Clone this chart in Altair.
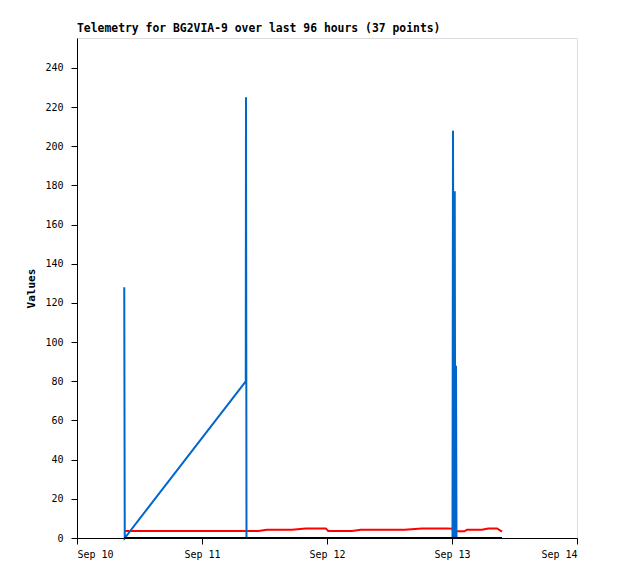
import json
import altair as alt
import pandas as pd

title_text = "Telemetry for BG2VIA-9 over last 96 hours (37 points)"
day_labels = ["Sep 10", "Sep 11", "Sep 12", "Sep 13", "Sep 14"]
day_ticks = [0, 1, 2, 3, 4]
y_ticks = list(range(0, 241, 20))

# time in days since Sep 10 00:00
t = [0.378, 0.382, 1.350, 1.352, 1.356,
     1.45, 1.52, 1.62, 1.72, 1.83, 1.92, 1.99, 2.01, 2.10, 2.20, 2.27, 2.38,
     2.50, 2.62, 2.76, 2.87, 2.96,
     3.004, 3.008, 3.014, 3.022, 3.026, 3.032, 3.036,
     3.06, 3.10, 3.12, 3.18, 3.24, 3.29, 3.36, 3.40]
blue = [128, 0, 80, 225, 0,
        0, 0, 0, 0, 0, 0, 0, 0, 0, 0, 0, 0,
        0, 0, 0, 0, 0,
        0, 208, 0, 177, 0, 88, 0,
        0, 0, 0, 0, 0, 0, 0, 0]
red = [3.6, 3.6, 3.6, 3.6, 3.6,
       3.6, 4.2, 4.2, 4.2, 4.9, 4.9, 4.9, 3.6, 3.6, 3.6, 4.2, 4.2,
       4.2, 4.2, 4.9, 4.9, 4.9,
       4.8, 3.4, 3.4, 3.4, 3.4, 3.4, 3.4,
       3.4, 3.4, 4.2, 4.2, 4.2, 4.9, 4.9, 3.3]
black = [0] * 37

df = pd.DataFrame({"t": t, "blue": blue, "red": red, "black": black})

FONT = "DejaVu Sans Mono"
label_expr = json.dumps(day_labels) + "[datum.value]"

x_enc = alt.X(
    "t:Q",
    scale=alt.Scale(domain=[0, 4], nice=False, zero=False),
    axis=alt.Axis(values=day_ticks, labelExpr=label_expr, title=None, grid=False,
                  tickSize=6, labelPadding=5, domainColor="black", tickColor="black",
                  labelColor="black", labelFont=FONT, labelFontSize=10),
)

def layer(field, color):
    return alt.Chart(df).mark_line(color=color, strokeWidth=2, strokeCap="butt").encode(
        x=x_enc,
        y=alt.Y(f"{field}:Q",
                scale=alt.Scale(domain=[0, 255.3], nice=False),
                axis=alt.Axis(values=y_ticks, title="Values", grid=False, tickSize=6,
                              labelPadding=8, domainColor="black", tickColor="black",
                              labelColor="black", labelFont=FONT, labelFontSize=10,
                              titleFont=FONT, titleFontSize=11, titleFontWeight="bold",
                              titleColor="black", titlePadding=8)),
    )

chart = alt.layer(layer("red", "#ff0000"), layer("blue", "#0066cc"), layer("black", "#000000")).properties(
    width=500,
    height=500,
    title=alt.TitleParams(title_text, anchor="start", frame="group", font=FONT, fontSize=11.4,
                          fontWeight="bold", color="black", offset=4),
    autosize=alt.AutoSizeParams(type="none"),
    padding={"left": 69, "top": 30, "right": 33, "bottom": 33},
).configure_view(stroke="#444444", strokeWidth=1).configure(background="white")

chart.save("out.html", embed_options={"renderer": "svg", "actions": False})
